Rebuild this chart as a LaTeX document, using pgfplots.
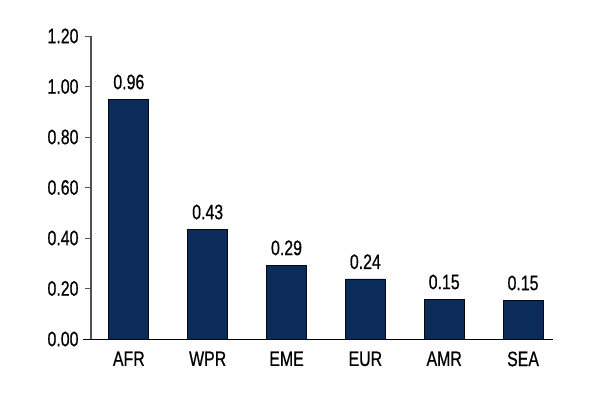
\documentclass[border=0pt]{standalone}
\usepackage{fontspec}
\setmainfont[FakeStretch=0.76,FakeBold=0.6]{Liberation Sans}
\usepackage{pgfplots}
\pgfplotsset{compat=1.18}
\definecolor{barblue}{HTML}{0B2C58}
\definecolor{axisgray}{HTML}{505050}
\begin{document}
\begin{tikzpicture}[x=1bp,y=1bp]
\useasboundingbox (0,0) rectangle (600,400);
\begin{axis}[
    at={(91bp,61bp)}, anchor=south west,
    scale only axis,
    width=462bp, height=303bp,
    ymin=0, ymax=1.2,
    xmin=-0.48, xmax=5.38,
    ytick={0,0.2,...,1.2},
    yticklabel style={/pgf/number format/fixed,/pgf/number format/fixed zerofill,/pgf/number format/precision=2},
    /pgf/number format/assume math mode=true,
    xtick=data,
    xticklabels={AFR,WPR,EME,EUR,AMR,SEA},
    axis x line*=bottom,
    axis y line*=left,
    y axis line style={axisgray, line width=1.2pt, -},
    x axis line style={black, line width=1pt, -, shorten <=-8bp},
    x tick style={draw=none},
    y tick style={axisgray, line width=1pt},
    tick align=outside,
    major tick length=6bp,
    tick label style={font=\fontsize{21}{23}\selectfont, black},
    yticklabel style={xshift=-3bp},
    xticklabel style={yshift=-3bp},
    ybar, bar width=40bp,
    point meta=explicit,
    nodes near coords,
    nodes near coords style={font=\fontsize{21}{23}\selectfont, black, yshift=6bp,
        /pgf/number format/fixed,/pgf/number format/fixed zerofill,/pgf/number format/precision=2},
]
\addplot[fill=barblue, draw=black!80!barblue, line width=0.8pt]
  coordinates {(0,0.95) [0.96] (1,0.435) [0.43] (2,0.293) [0.29] (3,0.238) [0.24] (4,0.158) [0.15] (5,0.154) [0.15]};
\end{axis}
\end{tikzpicture}
\end{document}
